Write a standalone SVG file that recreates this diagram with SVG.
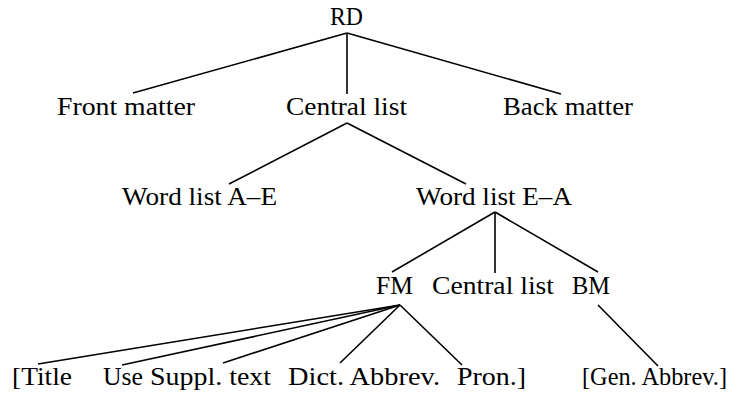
<svg xmlns="http://www.w3.org/2000/svg" width="748" height="398" viewBox="0 0 748 398">
<style>
text { font-family: "Liberation Serif", "Times New Roman", serif; font-size: 25px; fill: #000; }
.edge { stroke: #000; stroke-width: 1.6; fill: none; stroke-linecap: butt; }
</style>
<rect width="748" height="398" fill="#fff"/>
<g id="connectors">
  <line class="edge" x1="347" y1="33" x2="133" y2="93"/>
  <line class="edge" x1="347" y1="33" x2="347" y2="94"/>
  <line class="edge" x1="347" y1="33" x2="561" y2="94"/>
  <line class="edge" x1="347" y1="123" x2="229" y2="184"/>
  <line class="edge" x1="347" y1="123" x2="466" y2="184"/>
  <line class="edge" x1="495" y1="212" x2="392" y2="272"/>
  <line class="edge" x1="495" y1="212" x2="495" y2="273"/>
  <line class="edge" x1="495" y1="212" x2="598" y2="272"/>
  <line class="edge" x1="400" y1="305" x2="38" y2="364"/>
  <line class="edge" x1="400" y1="305" x2="122" y2="365"/>
  <line class="edge" x1="400" y1="305" x2="223" y2="363"/>
  <line class="edge" x1="400" y1="305" x2="340" y2="363"/>
  <line class="edge" x1="400" y1="305" x2="462" y2="365"/>
  <line class="edge" x1="598" y1="305" x2="658" y2="366"/>
</g>
<g id="rd"><text x="330" y="25" textLength="33" lengthAdjust="spacingAndGlyphs">RD</text></g>
<g id="front-matter"><text x="57" y="115" textLength="138" lengthAdjust="spacingAndGlyphs">Front matter</text></g>
<g id="central-list"><text x="286" y="115" textLength="121" lengthAdjust="spacingAndGlyphs">Central list</text></g>
<g id="back-matter"><text x="503" y="115" textLength="130" lengthAdjust="spacingAndGlyphs">Back matter</text></g>
<g id="word-list-ae"><text x="122" y="205" textLength="155" lengthAdjust="spacingAndGlyphs">Word list A–E</text></g>
<g id="word-list-ea"><text x="416" y="205" textLength="156" lengthAdjust="spacingAndGlyphs">Word list E–A</text></g>
<g id="fm"><text x="376" y="294" textLength="37" lengthAdjust="spacingAndGlyphs">FM</text></g>
<g id="central-list-2"><text x="432" y="294" textLength="122" lengthAdjust="spacingAndGlyphs">Central list</text></g>
<g id="bm"><text x="572" y="294" textLength="38" lengthAdjust="spacingAndGlyphs">BM</text></g>
<g id="title"><text x="12" y="385" textLength="60" lengthAdjust="spacingAndGlyphs">[Title</text></g>
<g id="use"><text x="103" y="385" textLength="40" lengthAdjust="spacingAndGlyphs">Use</text></g>
<g id="suppl-text"><text x="150" y="385" textLength="121" lengthAdjust="spacingAndGlyphs">Suppl. text</text></g>
<g id="dict-abbrev"><text x="288" y="385" textLength="152" lengthAdjust="spacingAndGlyphs">Dict. Abbrev.</text></g>
<g id="pron"><text x="457" y="385" textLength="69" lengthAdjust="spacingAndGlyphs">Pron.]</text></g>
<g id="gen-abbrev"><text x="582" y="385" textLength="145" lengthAdjust="spacingAndGlyphs">[Gen. Abbrev.]</text></g>
</svg>
